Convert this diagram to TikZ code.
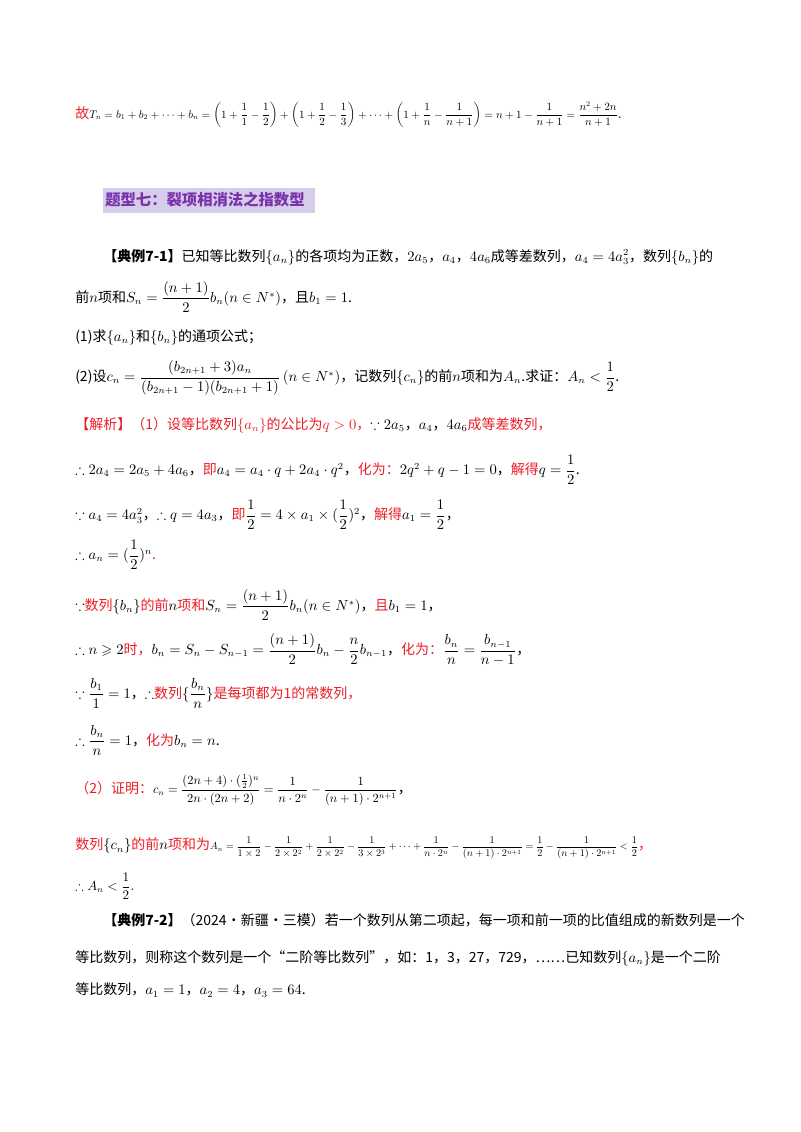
\documentclass[tikz,border=0pt]{standalone}
\usepackage{amsmath,amssymb,graphicx}
\usepackage{fontspec}
\setmainfont{Noto Sans CJK SC}
\usetikzlibrary{positioning}
\definecolor{hred}{RGB}{235,30,40}
\definecolor{hpur}{RGB}{120,50,170}
\definecolor{hbg}{RGB}{215,205,235}
\tikzset{ln/.style={anchor=west,inner sep=0pt,font=\fontsize{10.5}{12}\selectfont}}
\newcommand{\R}[1]{\textcolor{hred}{#1}}
\begin{document}
\begin{tikzpicture}[x=0.75pt,y=-0.75pt]
\useasboundingbox (0,0) rectangle (800,1132);
\node[ln] (l1) at (75,115) {\R{故}\scalebox{0.76}{$T_n=b_1+b_2+\cdots+b_n=\left(1+\dfrac11-\dfrac12\right)+\left(1+\dfrac12-\dfrac13\right)+\cdots+\left(1+\dfrac1n-\dfrac1{n+1}\right)=n+1-\dfrac1{n+1}=\dfrac{n^2+2n}{n+1}$}\R{.}};
\fill[hbg] (103,188) rectangle (315,213);
\node[ln,text=hpur,font=\fontsize{11.5}{13}\bfseries\selectfont] (h) at (105,200) {题型七：裂项相消法之指数型};
\node[ln] (e1) at (103,257) {\textbf{【典例7-1】}已知等比数列$\{a_n\}$的各项均为正数，$2a_5$，$a_4$，$4a_6$成等差数列，$a_4=4a_3^2$，数列$\{b_n\}$的};
\node[ln] (e2) at (75,297) {前$n$项和$S_n=\dfrac{(n+1)}{2}b_n(n\in N^*)$，且$b_1=1$.};
\node[ln] (e3) at (75,337) {(1)求$\{a_n\}$和$\{b_n\}$的通项公式；};
\node[ln] (e4) at (75,378) {(2)设$c_n=\dfrac{(b_{2n+1}+3)a_n}{(b_{2n+1}-1)(b_{2n+1}+1)}\left(n\in N^*\right)$，记数列$\{c_n\}$的前$n$项和为$A_n$.求证：$A_n<\dfrac12$.};
\node[ln] (s1) at (75,425) {\R{【解析】（1）设等比数列$\{a_n\}$的公比为$q>0$，}$\because 2a_5$，$a_4$，$4a_6$\R{成等差数列，}};
\node[ln] (s2) at (75,470) {$\therefore 2a_4=2a_5+4a_6$，\R{即}$a_4=a_4\cdot q+2a_4\cdot q^2$，\R{化为：}$2q^2+q-1=0$，\R{解得}$q=\dfrac12$.};
\node[ln] (s3) at (75,515) {$\because a_4=4a_3^2$，$\therefore q=4a_3$，\R{即}$\dfrac12=4\times a_1\times(\dfrac12)^2$，\R{解得}$a_1=\dfrac12$，};
\node[ln] (s4) at (75,555) {$\therefore a_n=(\dfrac12)^n$\R{.}};
\node[ln] (s5) at (75,605) {$\because$\R{数列}$\{b_n\}$\R{的前}$n$\R{项和}$S_n=\dfrac{(n+1)}{2}b_n(n\in N^*)$，\R{且}$b_1=1$，};
\node[ln] (s6) at (75,650) {$\therefore n\geqslant 2$\R{时，}$b_n=S_n-S_{n-1}=\dfrac{(n+1)}{2}b_n-\dfrac n2 b_{n-1}$，\R{化为：}$\dfrac{b_n}{n}=\dfrac{b_{n-1}}{n-1}$，};
\node[ln] (s7) at (75,693) {$\because\dfrac{b_1}{1}=1$，$\therefore$\R{数列}$\{\dfrac{b_n}{n}\}$\R{是每项都为1的常数列，}};
\node[ln] (s8) at (75,740) {$\therefore\dfrac{b_n}{n}=1$，\R{化为}$b_n=n$.};
\node[ln] (p1) at (75,790) {\R{（2）证明：}\scalebox{0.85}{$c_n=\dfrac{(2n+4)\cdot(\frac12)^n}{2n\cdot(2n+2)}=\dfrac1{n\cdot2^n}-\dfrac1{(n+1)\cdot2^{n+1}}$}，};
\node[ln] (p2) at (75,848) {\R{数列}$\{c_n\}$\R{的前}$n$\R{项和为}\scalebox{0.7}{$A_n=\dfrac1{1\times2}-\dfrac1{2\times2^2}+\dfrac1{2\times2^2}-\dfrac1{3\times2^3}+\dots+\dfrac1{n\cdot2^n}-\dfrac1{(n+1)\cdot2^{n+1}}=\dfrac12-\dfrac1{(n+1)\cdot2^{n+1}}<\dfrac12$}\R{，}};
\node[ln] (p3) at (75,886) {\scalebox{0.9}{$\therefore A_n<\dfrac12$}\R{.}};
\node[ln] (f1) at (103,920) {\textbf{【典例7-2】}（2024·新疆·三模）若一个数列从第二项起，每一项和前一项的比值组成的新数列是一个};
\node[ln] (f2) at (75,958) {等比数列，则称这个数列是一个“二阶等比数列”，如：1，3，27，729，……已知数列$\left\{a_n\right\}$是一个二阶};
\node[ln] (f3) at (75,990) {等比数列，$a_1=1$，$a_2=4$，$a_3=64$.};
\end{tikzpicture}
\end{document}
